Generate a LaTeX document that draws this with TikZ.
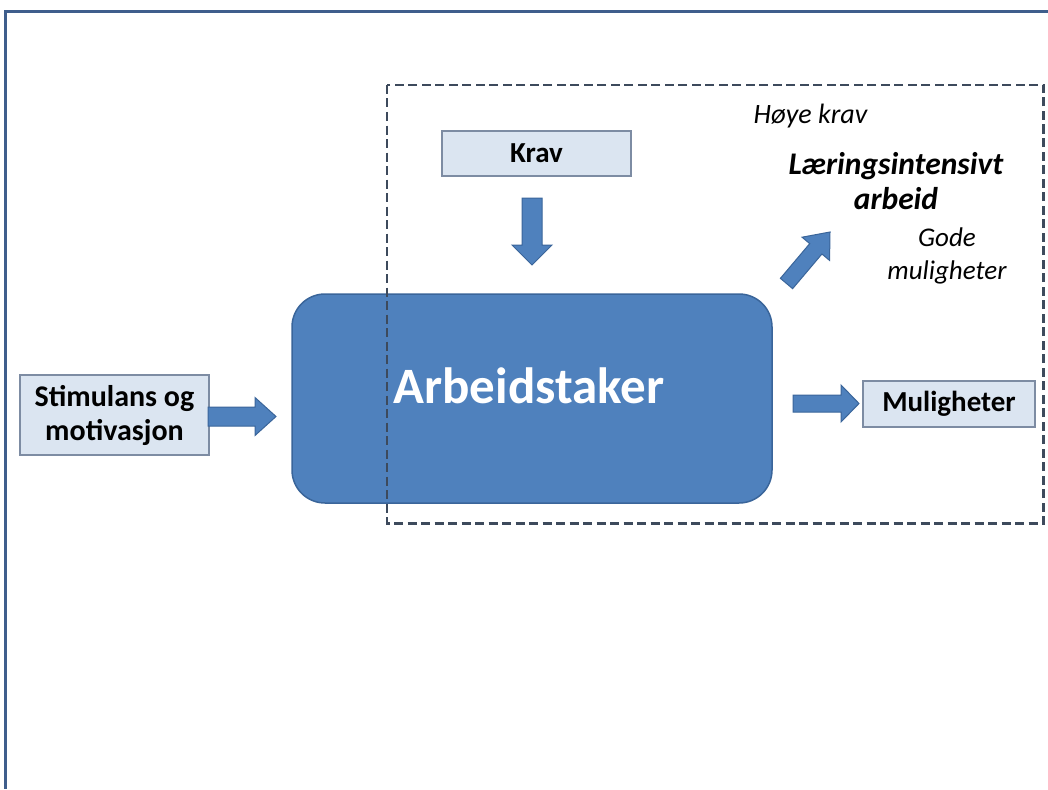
\documentclass[tikz,border=0pt]{standalone}
\usepackage{fontspec}
\setmainfont{Carlito}
\usetikzlibrary{calc}
\definecolor{frameblue}{HTML}{3F5E8C}
\definecolor{dashgray}{HTML}{3D4A5C}
\definecolor{mainblue}{HTML}{4F81BD}
\definecolor{mainedge}{HTML}{3A659A}
\definecolor{lightbox}{HTML}{DBE5F1}
\definecolor{boxedge}{HTML}{7D8CA3}
\tikzset{
  lbox/.style={draw=boxedge, fill=lightbox, line width=1.2pt, inner sep=0pt,
    align=center, font=\bfseries\fontsize{29}{34}\selectfont},
  arrowbody/.style={draw=mainedge, fill=mainblue, line width=1pt, line join=miter},
  barrow/.style n args={3}{to path={
    ($(\tikztostart)!#1!-90:(\tikztotarget)$) --
    ($($(\tikztotarget)!#3!(\tikztostart)$)!#1!-90:(\tikztotarget)$) --
    ($($(\tikztotarget)!#3!(\tikztostart)$)!#2!-90:(\tikztotarget)$) --
    (\tikztotarget) --
    ($($(\tikztotarget)!#3!(\tikztostart)$)!#2!90:(\tikztotarget)$) --
    ($($(\tikztotarget)!#3!(\tikztostart)$)!#1!90:(\tikztotarget)$) --
    ($(\tikztostart)!#1!90:(\tikztotarget)$) -- cycle}},
  itext/.style={inner sep=0pt, font=\itshape\fontsize{#1}{#1}\selectfont},
}
\begin{document}
\begin{tikzpicture}[x=1pt, y=-1pt]
\useasboundingbox (0,0) rectangle (1048,789);
\fill[white] (0,0) rectangle (1048,789);
% outer frame (cropped: only top and left visible)
\draw[frameblue, line width=3pt] (1048,12) -- (5.5,12) -- (5.5,789);

% main node
\node[draw=mainedge, fill=mainblue, line width=1.5pt, rounded corners=33pt,
      minimum width=480pt, minimum height=209pt, inner sep=0pt] (arb) at (532,398.5) {};

% dashed region
\draw[dashgray, line width=2.6pt, dash pattern=on 9pt off 4.5pt]
  (387,85) rectangle (1043.5,523.5);

% label of main node
\node[inner sep=0pt, text=white, font=\bfseries\fontsize{51}{51}\selectfont, anchor=base]
  (arblabel) at (529,403) {Arbeidstaker};

% boxes
\node[lbox, minimum width=189pt, minimum height=45pt] (krav) at (536.5,153.5) {Krav};
\node[lbox, minimum width=189pt, minimum height=80pt, font=\bfseries\fontsize{30}{34}\selectfont]
  (stim) at (114.5,415) {Stimulans og\\motivasjon};
\node[lbox, minimum width=172pt, minimum height=46pt] (mul) at (949,404) {Muligheter};

% italic texts
\node[itext=28, anchor=base] (hoye) at (810.5,123) {Høye krav};
\node[inner sep=0pt, anchor=north, align=center,
      font=\bfseries\itshape\fontsize{31.5}{35}\selectfont] (lar) at (896,152)
      {Læringsintensivt\\arbeid};
\node[inner sep=0pt, anchor=north, align=center,
      font=\itshape\fontsize{27}{33}\selectfont] (gode) at (947,228)
      {Gode\\muligheter};

% arrow end points
\coordinate (sA) at (208,416.5);
\coordinate (sB) at (276,416.5);
\coordinate (kA) at (532,198);
\coordinate (kB) at (532,265);
\coordinate (mA) at (793,403.5);
\coordinate (mB) at (859,403.5);
\coordinate (dA) at (786.5,283.5);
\coordinate (dB) at (830,232);

\draw[arrowbody, barrow={9.5pt}{19pt}{21pt}] (sA) to (sB);
\draw[arrowbody, barrow={10pt}{20pt}{20pt}] (kA) to (kB);
\draw[arrowbody, barrow={8.5pt}{18.5pt}{18pt}] (mA) to (mB);
\draw[arrowbody, barrow={8pt}{18pt}{22pt}] (dA) to (dB);
\end{tikzpicture}
\end{document}
